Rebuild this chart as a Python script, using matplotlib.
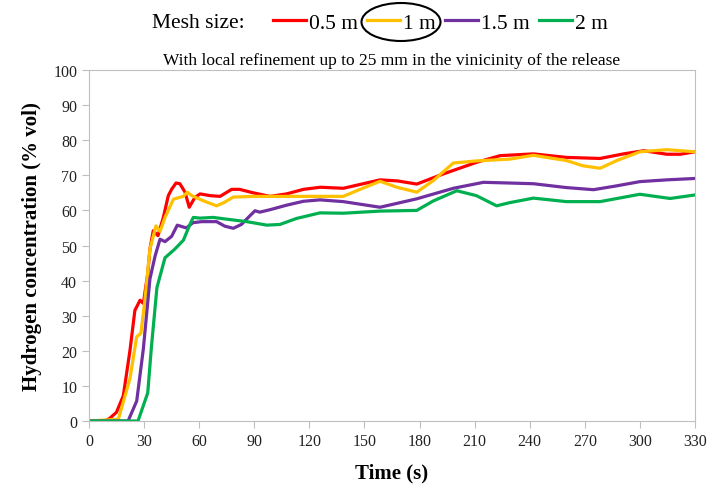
import matplotlib.pyplot as plt
import matplotlib.patches as patches
from matplotlib.ticker import MultipleLocator

plt.rcParams['font.family'] = ['Liberation Serif', 'DejaVu Serif']

# ---- data ----
t_05 = [0, 8.7, 11.4, 15, 18.7, 22.3, 25, 27.8, 29.6, 32, 33.2, 35, 37.6, 40.5, 43.2, 45, 47.4,
        49.5, 52.3, 54.6, 57.7, 60.5, 66, 71.4, 77.7, 82, 89.5, 98.6, 107.6, 116.8, 126, 138.5,
        158.5, 168, 178.5, 193, 211, 223.9, 242, 260, 278.3, 291, 302, 314.6, 322, 330]
c_05 = [0, 0, 0.8, 2.5, 7.2, 20, 31.5, 34.4, 33.5, 42, 49, 54.2, 52.8, 58, 64.2, 66, 67.8,
        67.6, 65.2, 60.9, 63.7, 64.7, 64.2, 64, 66, 66, 65, 64, 64.7, 66, 66.6, 66.3,
        68.7, 68.4, 67.5, 70.4, 73.7, 75.6, 76.1, 75.1, 74.8, 76.1, 77, 76, 76, 76.7]

t_1 = [0, 16, 22.3, 26, 28.3, 30.5, 33.2, 36.5, 38.7, 41.4, 46, 51.4, 53.5, 56, 62, 69.5, 73.8,
       78.5, 89.5, 120.4, 138.5, 147.6, 158.5, 167.6, 178.5, 187.5, 198.4, 211, 229, 242, 260,
       269, 278.3, 287.4, 300, 314.6, 330]
c_1 = [0, 0.5, 12, 24, 25, 34.7, 49, 55.6, 54, 58, 63.2, 64, 65.2, 64.2, 62.8, 61.3, 62.3,
       63.8, 64, 64, 64, 66, 68.3, 66.6, 65.2, 68.5, 73.5, 74.1, 74.6, 75.7, 74.2,
       72.7, 72, 74.2, 76.7, 77.3, 76.7]

t_15 = [0, 21.3, 26, 29.6, 33.2, 36, 38.7, 41.4, 45, 48.1, 53, 56.6, 61.4, 69.5, 74, 78.6, 83,
        87.7, 90.4, 93, 98.6, 107.7, 116.8, 125.8, 138.5, 158.5, 178.5, 198.4, 214.8, 229, 242,
        260, 274.7, 287.4, 300, 314.6, 330]
c_15 = [0, 0, 5.7, 20.5, 40.5, 47, 51.8, 51.1, 52.6, 55.8, 55, 56.5, 56.8, 56.8, 55.5, 54.9, 56,
        58.5, 59.9, 59.5, 60.2, 61.5, 62.6, 63, 62.5, 60.9, 63.3, 66.3, 68, 67.8, 67.6,
        66.5, 65.9, 67, 68.2, 68.7, 69.1]

t_2 = [0, 26.7, 32, 34, 37, 41.4, 46.8, 51.4, 55, 56.8, 60.5, 67.7, 75, 85.9, 96.8, 104, 113,
       125.8, 138.5, 158.5, 178.5, 187.5, 200.3, 211, 222, 229, 242, 260, 278.3, 300, 316.4, 330]
c_2 = [0, 0, 8, 21, 38, 46.5, 49, 51.5, 56, 58, 57.8, 58, 57.5, 56.8, 55.8, 56, 57.7,
       59.3, 59.2, 59.8, 60, 62.7, 65.6, 64.2, 61.3, 62.2, 63.5, 62.5, 62.5, 64.6, 63.4, 64.4]

labels = ['0.5 m', '1 m', '1.5 m', '2 m']
colors = ['#FF0000', '#FFC000', '#7030A0', '#00B050']

fig = plt.figure(figsize=(7.14, 4.85), dpi=100)
ax = fig.add_axes([0.1246, 0.1299, 0.8488, 0.7237])

for tt, cc, lab, col in zip([t_05, t_1, t_15, t_2], [c_05, c_1, c_15, c_2], labels, colors):
    ax.plot(tt, cc, color=col, lw=2.3, label=lab, solid_joinstyle='round')

ax.set_xlim(0, 330)
ax.set_ylim(0, 100)
ax.xaxis.set_major_locator(MultipleLocator(30))
ax.yaxis.set_major_locator(MultipleLocator(10))
for s in ax.spines.values():
    s.set_color('#BFBFBF')
ax.tick_params(direction='out', length=5, color='#BFBFBF', labelsize=11.5, labelcolor='#222222')

ax.set_xlabel('Time (s)', fontsize=15, fontweight='bold', labelpad=10)
ax.set_ylabel('Hydrogen concentration (% vol)', fontsize=15, fontweight='bold', labelpad=8)

ax.set_title('With local refinement up to 25 mm in the vinicinity of the release', fontsize=12.5, pad=4)

fig.text(0.213, 0.951, 'Mesh size:', fontsize=15.5, ha='left', va='center')
fig.legend(loc='center', bbox_to_anchor=(0.617, 0.951), ncol=4, frameon=False, fontsize=15.5,
           handlelength=1.5, handletextpad=0.15, columnspacing=0.45, borderpad=0)

# ellipse around the "1 m" entry
ell = patches.Ellipse((401 / 714, 1 - 23 / 485), 79 / 714, 38 / 485, transform=fig.transFigure,
                      fill=False, edgecolor='black', lw=1.5)
fig.add_artist(ell)

fig.savefig('out.png', dpi=100)
